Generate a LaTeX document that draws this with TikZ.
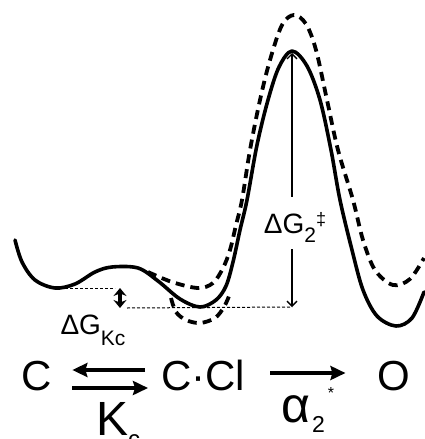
\documentclass[tikz,border=0pt]{standalone}
\usepackage{fontspec}
\setmainfont{Liberation Sans}
\usetikzlibrary{arrows.meta}

\begin{document}
\begin{tikzpicture}[x=1pt,y=-1pt,
  profile/.style={line width=3.6pt, line cap=round, line join=round},
  shifted/.style={line width=3.8pt, dash pattern=on 9pt off 6pt},
  guide/.style={line width=1pt, dash pattern=on 3pt off 2pt},
  species/.style={inner sep=0pt, anchor=base, font=\fontsize{42}{42}\selectfont},
  rxn/.style={line width=4pt, -{Stealth[length=15pt,width=14pt,inset=2pt]}},
  gap/.style={line width=3.5pt, {Stealth[length=8pt,width=13pt]}-{Stealth[length=8pt,width=13pt]}},
  barrier/.style={line width=1.3pt, -{Straight Barb[length=5pt,width=10pt]}},
  elabel/.style={inner sep=0pt, font=\fontsize{28}{28}\selectfont}
]
\useasboundingbox (0,0) rectangle (424,439);

% free energy profile (solid)
\draw[profile] plot[smooth, tension=0.55] coordinates {
  (15,240) (22,262) (35,280) (55,288) (75,284) (95,272) (112,267) (138,268)
  (158,281) (180,299) (200,307) (216,300) (226,286) (233,262) (240,230)
  (247,200) (257,145) (268,100) (279,67) (292,51) (307,66) (320,100)
  (331,150) (340,200) (352,250) (363,290) (377,316) (396,326) (412,318)
  (424,292)};

% shifted profile (dashed)
\draw[shifted] plot[smooth, tension=0.55] coordinates {
  (148,272) (172,282) (198,288) (213,283) (223,268) (230,250) (236,225)
  (242,200) (250,150) (260,100) (270,60) (282,25) (294,15) (306,24)
  (316,50) (327,100) (338,150) (353,200) (363,240) (375,270) (393,285)
  (410,279) (424,258)};
\draw[shifted] plot[smooth, tension=0.55] coordinates {
  (171,298) (176,312) (186,320) (200,323) (215,318) (224,307) (229,296)};

% reference levels
\coordinate (minC) at (55,288);
\coordinate (topC) at (120,288);
\coordinate (botCCl) at (120,308);
\coordinate (topTS) at (292,53);
\coordinate (baseTS) at (292,307);
\draw[guide] (minC) -- ([xshift=-5pt]topC);
\draw[guide] ([xshift=7pt]botCCl) -- (baseTS);
\draw[gap] (topC) -- (botCCl);

% energy labels
\node[elabel] (dgkc) at (93,330) {ΔG\raisebox{-11pt}{\fontsize{21}{21}\selectfont Kc}};
\node[elabel] (dgts) at (295,227) {ΔG\raisebox{-9pt}{\fontsize{21}{21}\selectfont 2}\raisebox{8pt}{\fontsize{18}{18}\selectfont ‡}};
\draw[barrier, shorten <=15pt] (dgts.north -| topTS) -- (topTS);
\draw[barrier, shorten <=7pt] (dgts.south -| baseTS) -- (baseTS);

% kinetic scheme
\node[species] (c) at (37,390) {C};
\node[species, anchor=base west] (ccl) at (161,390) {C·Cl};
\node[species] (o) at (394,390) {O};
\draw[rxn] ([xshift=-16pt,yshift=20pt]ccl.base west) -- ([xshift=20pt,yshift=20pt]c.base east);
\draw[rxn] ([xshift=20pt,yshift=2pt]c.base east) -- ([xshift=-13pt,yshift=2pt]ccl.base west);
\draw[rxn] ([xshift=25pt,yshift=17pt]ccl.base east) -- ([xshift=-32pt,yshift=17pt]o.base west);
\node[inner sep=0pt, anchor=base west, font=\fontsize{48}{48}\selectfont] (kc) at (96,435)
  {K\raisebox{-12pt}{\fontsize{24}{24}\selectfont c}};
\node[inner sep=0pt, anchor=base west, font=\fontsize{50}{50}\selectfont] (alpha) at (281,422)
  {α\hspace{2pt}\raisebox{-10pt}{\fontsize{23}{23}\selectfont 2}\hspace{3pt}\raisebox{24pt}{\fontsize{16}{16}\selectfont *}};
\end{tikzpicture}
\end{document}
